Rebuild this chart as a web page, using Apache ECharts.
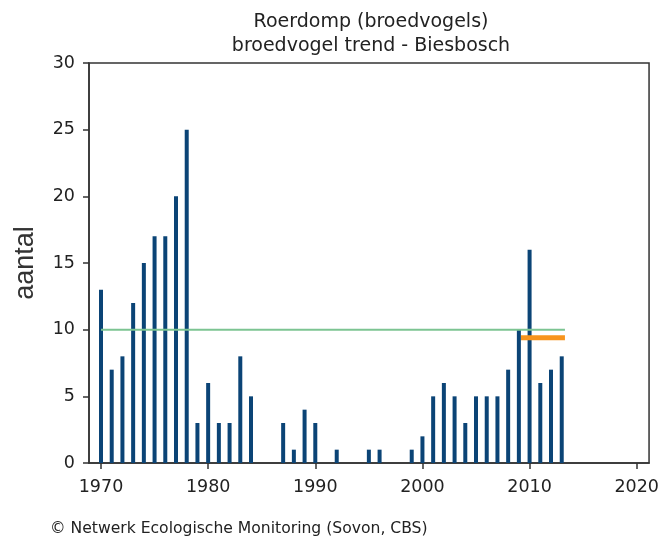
<!DOCTYPE html>
<html>
<head>
<meta charset="utf-8">
<script src="https://cdn.jsdelivr.net/npm/echarts@6/dist/echarts.min.js"></script>
<style>
html,body{margin:0;padding:0;background:#fff;}
#chart{width:662px;height:543px;}
</style>
</head>
<body>
<div id="chart"></div>
<script>
const years = [1970,1971,1972,1973,1974,1975,1976,1977,1978,1979,1980,1981,1982,1983,1984,
  1987,1988,1989,1990,1992,1995,1996,1999,2000,2001,2002,2003,2004,2005,2006,2007,2008,2009,2010,2011,2012,2013];
const counts = [13,7,8,12,15,17,17,20,25,3,6,3,3,8,5,
  3,1,4,3,1,1,1,1,2,5,6,5,3,5,5,5,7,10,16,6,7,8];
const trendYears = [1970, 2013.3];
const trendValues = [10, 10];
const recentYears = [2009.2, 2013.3];
const recentValues = [9.4, 9.4];
const yTicks = [0,5,10,15,20,25,30];
const xTicks = [1970,1980,1990,2000,2010,2020];
const titleLines = ['Roerdomp (broedvogels)', 'broedvogel trend - Biesbosch'];
const yName = 'aantal';
const footer = '\u00a9 Netwerk Ecologische Monitoring (Sovon, CBS)';

const chart = echarts.init(document.getElementById('chart'));
const font = 'DejaVu Sans';
chart.setOption({
  animation: false,
  title: {
    text: titleLines.join('\n'),
    left: 366, top: 5, textAlign: 'center',
    textStyle: {fontFamily: font, fontSize: 19, fontWeight: 'normal', color: '#222', lineHeight: 24}
  },
  graphic: [{
    type: 'text', left: 50, top: 521,
    style: {text: footer, font: '15.6px "DejaVu Sans"', fill: '#222'}
  }],
  grid: {left: 89, right: 12, top: 63, bottom: 80, show: true, borderColor: '#333', borderWidth: 1.5, backgroundColor: 'transparent'},
  xAxis: {
    type: 'value', min: 1968.88, max: 2021.15,
    axisLine: {show: true, lineStyle: {color: '#333', width: 1.5}},
    axisTick: {show: true, length: 6, lineStyle: {color: '#333', width: 1.5},
      customValues: xTicks},
    axisLabel: {fontFamily: font, fontSize: 17.5, color: '#222', margin: 15,
      customValues: xTicks, formatter: v => String(v)},
    splitLine: {show: false}
  },
  yAxis: {
    type: 'value', min: 0, max: 30, interval: 5,
    name: yName, nameLocation: 'middle', nameGap: 50,
    nameTextStyle: {fontFamily: 'Liberation Sans', fontSize: 27, color: '#333'},
    axisLine: {show: true, lineStyle: {color: '#333', width: 1.5}},
    axisTick: {show: true, length: 6, lineStyle: {color: '#333', width: 1.5}},
    axisLabel: {fontFamily: font, fontSize: 17.5, color: '#222', margin: 14},
    splitLine: {show: false}
  },
  series: [
    {
      type: 'bar', barWidth: 4,
      data: years.map((y, i) => [y, counts[i]]),
      itemStyle: {color: '#0b4476'}
    },
    {
      type: 'line', symbol: 'none',
      data: trendYears.map((y, i) => [y, trendValues[i]]),
      lineStyle: {color: '#7cc492', width: 2}
    },
    {
      type: 'line', symbol: 'none',
      data: recentYears.map((y, i) => [y, recentValues[i]]),
      lineStyle: {color: '#f7941d', width: 5}
    }
  ]
});
</script>
</body>
</html>
